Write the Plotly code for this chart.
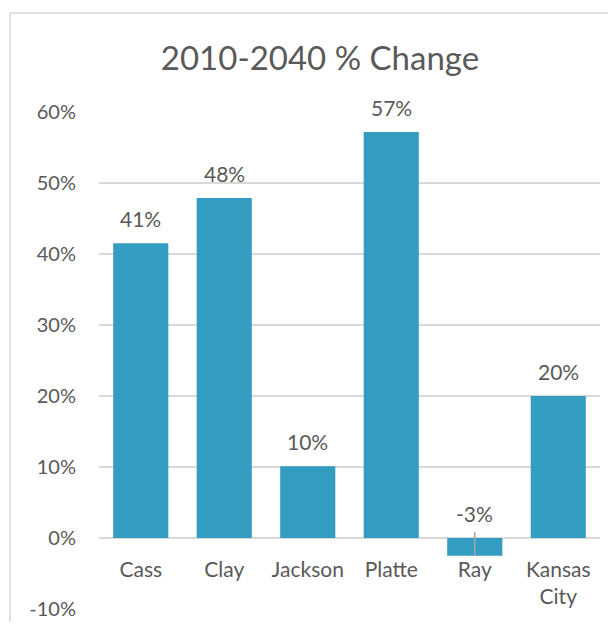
import plotly.graph_objects as go

categories = ["Cass", "Clay", "Jackson", "Platte", "Ray", "Kansas<br>City"]
values = [0.415, 0.479, 0.101, 0.572, -0.025, 0.200]
labels = ["41%", "48%", "10%", "57%", "-3%", "20%"]
tick_vals = [-0.1, 0, 0.1, 0.2, 0.3, 0.4, 0.5, 0.6]
tick_text = ["-10%", "0%", "10%", "20%", "30%", "40%", "50%", "60%"]

BAR = "#339cc1"
TXT = "#595959"
FONT = "Lato"

# page body has an 8px margin: figure is sized/positioned to compensate
W, H = 608, 614

fig = go.Figure()
fig.add_trace(go.Bar(x=categories, y=values, marker=dict(color=BAR, line=dict(width=0)),
                     hoverinfo="skip"))

for c, v, t in zip(categories, values, labels):
    fig.add_annotation(x=c, y=max(v, 0), text=t, showarrow=False, yanchor="bottom",
                       yshift=10, font=dict(family=FONT, size=21, color=TXT))

# leader line for the negative bar label
for c, v in zip(categories, values):
    if v < 0:
        fig.add_shape(type="line", xref="x", yref="y", x0=c, x1=c, y0=0.008, y1=v,
                      line=dict(color="#a6a6a6", width=1.5))

# chart-area frame (left and top edges visible in the crop)
frame = dict(color="#d9d9d9", width=1.5)
fig.add_shape(type="line", xref="paper", yref="paper", x0=-0.1776, x1=-0.1776, y0=-0.1, y1=1.199,
              line=frame, layer="below")
fig.add_shape(type="line", xref="paper", yref="paper", x0=-0.1776, x1=1.05, y0=1.199, y1=1.199,
              line=frame, layer="below")

fig.update_layout(
    width=W, height=H,
    margin=dict(l=91, r=16, t=104, b=13, autoexpand=False),
    paper_bgcolor="white", plot_bgcolor="white",
    bargap=0.34,
    showlegend=False,
    title=dict(text="2010-2040 % Change", x=312/W, xref="container", xanchor="center",
               y=1-50/H, yref="container", yanchor="middle",
               font=dict(family=FONT, size=33, color=TXT)),
    font=dict(family=FONT, color=TXT, size=21),
    xaxis=dict(anchor="free", position=1/7, showline=False, ticks="", showgrid=False,
               automargin=False,
               tickfont=dict(family=FONT, size=21, color=TXT), ticklabelstandoff=17),
    yaxis=dict(range=[-0.1, 0.6], tickvals=tick_vals, ticktext=tick_text, showgrid=True,
               automargin=False,
               gridcolor="#d9d9d9", gridwidth=1.5, zeroline=True, zerolinecolor="#d9d9d9",
               zerolinewidth=1.5, showline=False, ticks="", ticklabelstandoff=22,
               tickfont=dict(family=FONT, size=20, color=TXT)),
)

fig.write_html("out.html")
